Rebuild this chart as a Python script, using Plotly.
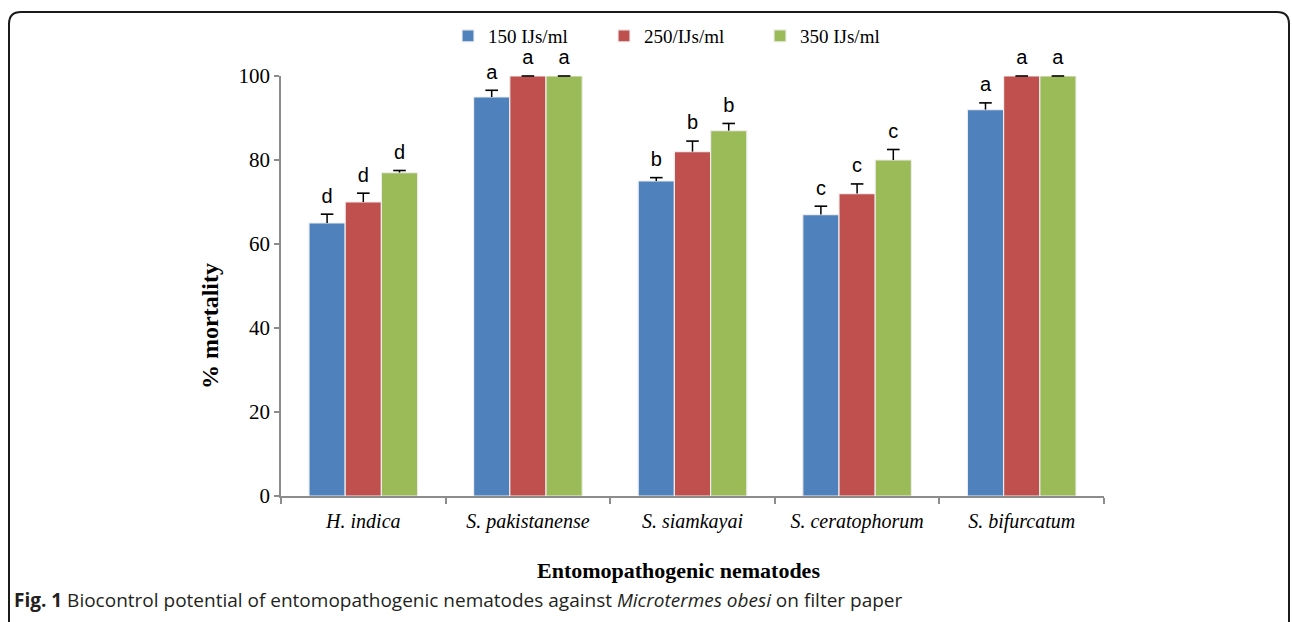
import plotly.graph_objects as go

categories = ["H. indica", "S. pakistanense", "S. siamkayai", "S. ceratophorum", "S. bifurcatum"]
series_names = ["150 IJs/ml", "250/IJs/ml", "350 IJs/ml"]
vals_150 = [65, 95, 75, 67, 92]
vals_250 = [70, 100, 82, 72, 100]
vals_350 = [77, 100, 87, 80, 100]
err_150 = [2.1, 1.6, 0.8, 2.0, 1.6]
err_250 = [2.1, 0.0, 2.5, 2.3, 0.0]
err_350 = [0.5, 0.0, 1.7, 2.5, 0.0]
letters_150 = ["d", "a", "b", "c", "a"]
letters_250 = ["d", "a", "b", "c", "a"]
letters_350 = ["d", "a", "b", "c", "a"]
yticks = [0, 20, 40, 60, 80, 100]
colors = ["#4F81BD", "#C0504D", "#9BBB59"]

W, H = 1292, 622
L, R, T, B = 281, 1104, 76, 496
BARGAP = 0.34


def px(x):
    return (x - L) / (R - L)


def py(y):
    return (B - y) / (B - T)


serif = "Liberation Serif, Times New Roman, serif"
pos = list(range(len(categories)))
bw = (1 - BARGAP) / 3

fig = go.Figure()
all_vals = [vals_150, vals_250, vals_350]
all_errs = [err_150, err_250, err_350]
all_letters = [letters_150, letters_250, letters_350]
for name, v, c in zip(series_names, all_vals, colors):
    fig.add_trace(go.Bar(
        x=pos, y=v, name=name,
        marker=dict(color=c, line=dict(color="#EDEDED", width=1.2)),
        hoverinfo="skip",
    ))

# upper-only error bars ("T" shape) with significance letters
for k, (v, e, lt) in enumerate(zip(all_vals, all_errs, all_letters)):
    xs = [p + (k - 1) * bw for p in pos]
    tops = [a + b for a, b in zip(v, e)]
    fig.add_trace(go.Scatter(
        x=xs, y=tops, mode="markers+text", showlegend=False, cliponaxis=False,
        marker=dict(symbol="line-ew", size=9, line=dict(color="black", width=1.6)),
        error_y=dict(type="data", symmetric=False, array=[0] * len(e), arrayminus=e,
                     color="black", thickness=1.5, width=0),
        text=lt, textposition="top center",
        textfont=dict(family="Liberation Sans, Arial", size=20, color="black"),
        hoverinfo="skip",
    ))

fig.update_layout(
    width=W, height=H,
    margin=dict(l=L, r=W - R, t=T, b=H - B),
    paper_bgcolor="white", plot_bgcolor="white",
    barmode="group", bargap=BARGAP, bargroupgap=0,
    showlegend=True,
    legend=dict(orientation="h", x=px(448), xanchor="left", y=py(36), yanchor="middle",
                font=dict(family=serif, size=19, color="black"),
                entrywidth=111, entrywidthmode="pixels", itemwidth=30,
                bgcolor="rgba(0,0,0,0)"),
    xaxis=dict(
        range=[-0.5, len(categories) - 0.5],
        tickvals=pos, ticktext=[f"<i>{c}</i>" for c in categories],
        ticks="", ticklabelstandoff=6,
        minor=dict(tickvals=[p - 0.5 for p in pos] + [pos[-1] + 0.5],
                   ticks="outside", ticklen=6, tickcolor="#8C8C8C", tickwidth=1.5, showgrid=False),
        showline=True, linecolor="#8C8C8C", linewidth=1.5,
        showgrid=False, zeroline=False,
        tickfont=dict(family=serif, size=20, color="black"),
    ),
    yaxis=dict(
        range=[0, 100], tickvals=yticks, ticks="outside", ticklen=5, tickwidth=1.5,
        tickcolor="#8C8C8C", showline=True, linecolor="#8C8C8C", linewidth=1.5,
        showgrid=False, zeroline=False,
        tickfont=dict(family=serif, size=21, color="black"),
    ),
)

# axis titles
fig.add_annotation(x=px(210), y=py(326), xref="paper", yref="paper", xanchor="center",
                   yanchor="middle", text="<b>% mortality</b>",
                   textangle=-90, showarrow=False,
                   font=dict(family=serif, size=24, color="black"))
fig.add_annotation(x=px(678), y=py(570), xref="paper", yref="paper", xanchor="center",
                   yanchor="middle",
                   text="<b>Entomopathogenic nematodes</b>", showarrow=False,
                   font=dict(family=serif, size=22, color="black"))
# caption
fig.add_annotation(x=px(12), y=py(600), xref="paper", yref="paper", xanchor="left",
                   yanchor="middle",
                   text="<b>Fig. 1</b> Biocontrol potential of entomopathogenic nematodes against <i>Microtermes obesi</i> on filter paper",
                   showarrow=False,
                   font=dict(family="Open Sans", size=19, color="#231F20"))

# frame with rounded top corners
r = 12
path = (f"M {px(9)},{py(630)} L {px(9)},{py(12 + r)} Q {px(9)},{py(12)} {px(9 + r)},{py(12)} "
        f"L {px(1289 - r)},{py(12)} Q {px(1289)},{py(12)} {px(1289)},{py(12 + r)} L {px(1289)},{py(630)}")
fig.add_shape(type="path", path=path, xref="paper", yref="paper",
              line=dict(color="#1A1A1A", width=2))

fig.write_html("out.html", config={"displayModeBar": False})

# remove default page margin so the figure fills the window exactly
with open("out.html", "r", encoding="utf-8") as f:
    html = f.read()
html = html.replace("<body>", '<body style="margin:0;overflow:hidden">', 1)
with open("out.html", "w", encoding="utf-8") as f:
    f.write(html)
